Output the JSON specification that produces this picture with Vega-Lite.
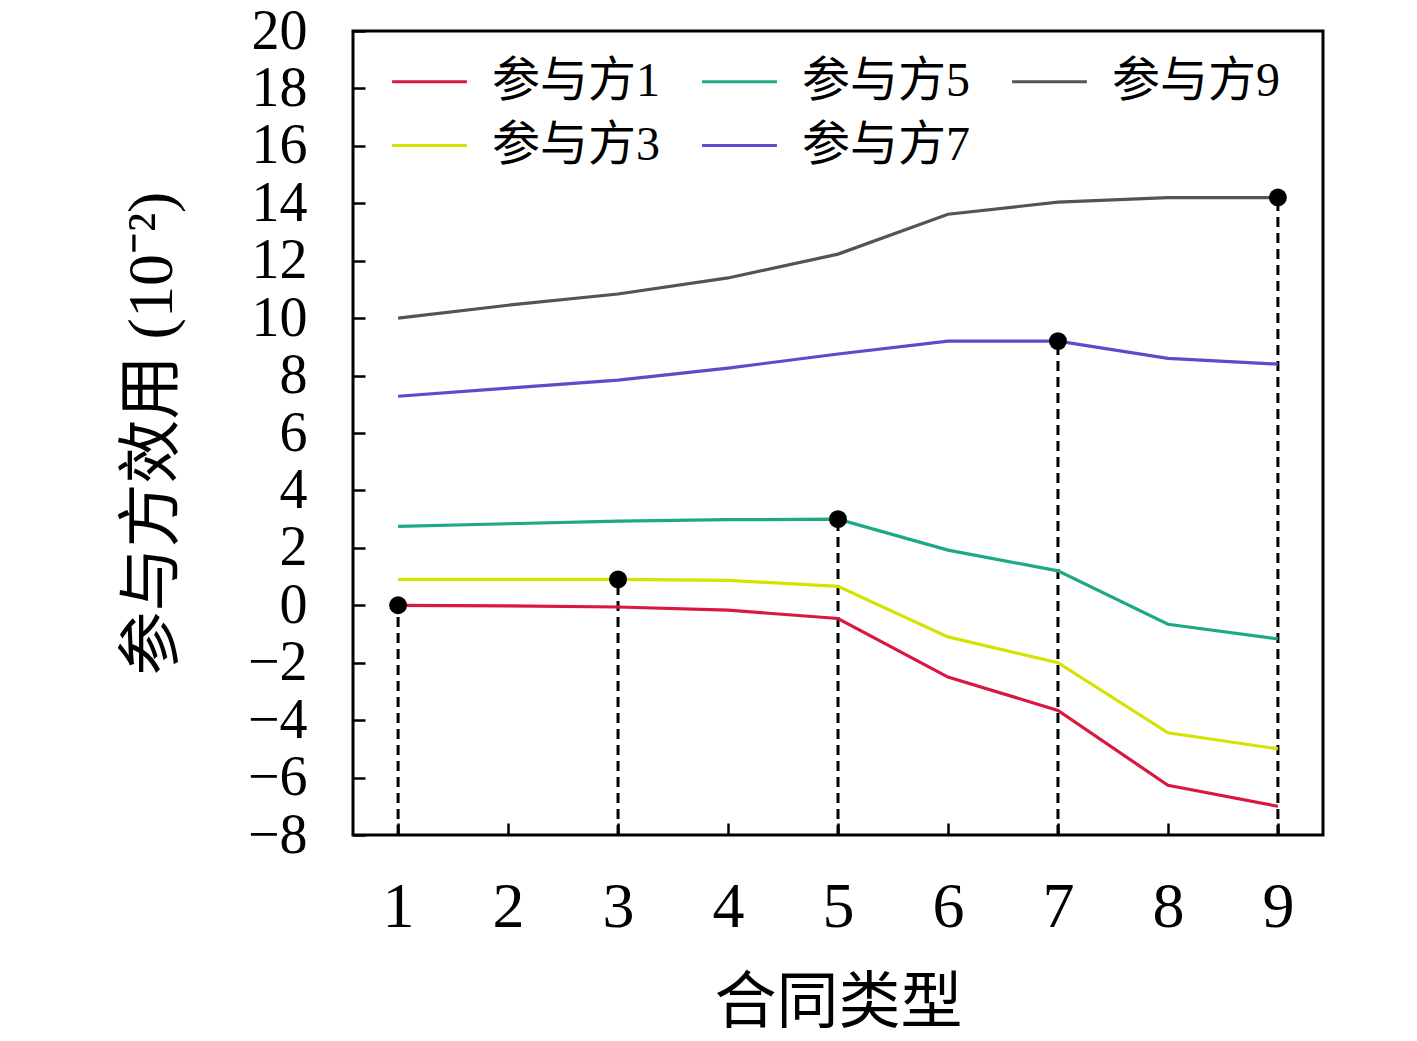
{
  "$schema": "https://vega.github.io/schema/vega-lite/v6.json",
  "width": 970,
  "height": 804,
  "autosize": "none",
  "padding": {"left": 353, "top": 31, "right": 94, "bottom": 206},
  "background": "white",
  "datasets": {
    "lines": [
      {"x": 1, "party": "参与方1", "y": 0},
      {"x": 2, "party": "参与方1", "y": -0.02},
      {"x": 3, "party": "参与方1", "y": -0.06},
      {"x": 4, "party": "参与方1", "y": -0.17},
      {"x": 5, "party": "参与方1", "y": -0.46},
      {"x": 6, "party": "参与方1", "y": -2.5},
      {"x": 7, "party": "参与方1", "y": -3.66},
      {"x": 8, "party": "参与方1", "y": -6.27},
      {"x": 9, "party": "参与方1", "y": -7.0},
      {"x": 1, "party": "参与方3", "y": 0.9},
      {"x": 2, "party": "参与方3", "y": 0.9},
      {"x": 3, "party": "参与方3", "y": 0.9},
      {"x": 4, "party": "参与方3", "y": 0.87},
      {"x": 5, "party": "参与方3", "y": 0.66},
      {"x": 6, "party": "参与方3", "y": -1.1},
      {"x": 7, "party": "参与方3", "y": -2.0},
      {"x": 8, "party": "参与方3", "y": -4.44},
      {"x": 9, "party": "参与方3", "y": -5.0},
      {"x": 1, "party": "参与方5", "y": 2.75},
      {"x": 2, "party": "参与方5", "y": 2.84},
      {"x": 3, "party": "参与方5", "y": 2.93},
      {"x": 4, "party": "参与方5", "y": 2.98},
      {"x": 5, "party": "参与方5", "y": 3.0},
      {"x": 6, "party": "参与方5", "y": 1.92},
      {"x": 7, "party": "参与方5", "y": 1.2},
      {"x": 8, "party": "参与方5", "y": -0.66},
      {"x": 9, "party": "参与方5", "y": -1.17},
      {"x": 1, "party": "参与方7", "y": 7.28},
      {"x": 2, "party": "参与方7", "y": 7.56},
      {"x": 3, "party": "参与方7", "y": 7.84},
      {"x": 4, "party": "参与方7", "y": 8.26},
      {"x": 5, "party": "参与方7", "y": 8.75},
      {"x": 6, "party": "参与方7", "y": 9.2},
      {"x": 7, "party": "参与方7", "y": 9.2},
      {"x": 8, "party": "参与方7", "y": 8.6},
      {"x": 9, "party": "参与方7", "y": 8.4},
      {"x": 1, "party": "参与方9", "y": 10.0},
      {"x": 2, "party": "参与方9", "y": 10.45},
      {"x": 3, "party": "参与方9", "y": 10.84},
      {"x": 4, "party": "参与方9", "y": 11.4},
      {"x": 5, "party": "参与方9", "y": 12.23},
      {"x": 6, "party": "参与方9", "y": 13.62},
      {"x": 7, "party": "参与方9", "y": 14.04},
      {"x": 8, "party": "参与方9", "y": 14.2},
      {"x": 9, "party": "参与方9", "y": 14.2}
    ],
    "peaks": [
      {"x": 1, "y": 0, "base": -8},
      {"x": 3, "y": 0.9, "base": -8},
      {"x": 5, "y": 3.0, "base": -8},
      {"x": 7, "y": 9.2, "base": -8},
      {"x": 9, "y": 14.2, "base": -8}
    ]
  },
  "layer": [
    {
      "data": {"name": "peaks"},
      "mark": {"type": "rule", "color": "black", "strokeWidth": 3, "strokeDash": [10, 6]},
      "encoding": {
        "x": {"field": "x", "type": "quantitative"},
        "y": {"field": "base", "type": "quantitative"},
        "y2": {"field": "y"}
      }
    },
    {
      "data": {"name": "lines"},
      "mark": {"type": "line", "strokeWidth": 3.2},
      "encoding": {
        "x": {
          "field": "x",
          "type": "quantitative",
          "scale": {"domain": [0.59, 9.41], "nice": false, "zero": false},
          "axis": {
            "title": "合同类型",
            "values": [1, 2, 3, 4, 5, 6, 7, 8, 9],
            "format": "d",
            "tickSize": -12,
            "tickWidth": 2.5,
            "tickColor": "black",
            "domain": false,
            "grid": false,
            "labelPadding": 52,
            "labelFontSize": 64,
            "labelFlush": false,
            "labelOverlap": false,
            "titleFontSize": 62,
            "titlePadding": 34,
            "titleFontWeight": "normal"
          }
        },
        "y": {
          "field": "y",
          "type": "quantitative",
          "scale": {"domain": [-8, 20], "nice": false, "zero": false},
          "axis": {
            "title": "参与方效用 (10⁻²)",
            "values": [-8, -6, -4, -2, 0, 2, 4, 6, 8, 10, 12, 14, 16, 18, 20],
            "tickSize": -12,
            "tickWidth": 2.5,
            "tickColor": "black",
            "domain": false,
            "grid": false,
            "labelPadding": 58,
            "labelFontSize": 56,
            "labelFlush": false,
            "labelOverlap": false,
            "titleFontSize": 64,
            "titlePadding": 63,
            "titleFontWeight": "normal"
          }
        },
        "color": {
          "field": "party",
          "type": "nominal",
          "scale": {
            "domain": ["参与方1", "参与方5", "参与方9", "参与方3", "参与方7"],
            "range": ["#d91842", "#1fa886", "#5a5252", "#d6e200", "#5a4ccc"]
          },
          "legend": {
            "title": null,
            "orient": "none",
            "legendX": 37,
            "legendY": 11,
            "columns": 3,
            "direction": "horizontal",
            "symbolType": "stroke",
            "symbolSize": 5600,
            "symbolStrokeWidth": 3.2,
            "labelFontSize": 48,
            "labelOffset": 23,
            "columnPadding": 34,
            "rowPadding": -13,
            "labelLimit": 400
          }
        }
      }
    },
    {
      "data": {"name": "peaks"},
      "mark": {"type": "point", "filled": true, "color": "black", "opacity": 1, "size": 320, "shape": "circle"},
      "encoding": {
        "x": {"field": "x", "type": "quantitative"},
        "y": {"field": "y", "type": "quantitative"}
      }
    }
  ],
  "config": {
    "font": "Liberation Serif, Noto Sans CJK SC",
    "view": {"stroke": "black", "strokeWidth": 3},
    "axis": {"labelColor": "black", "titleColor": "black", "labelFont": "Liberation Serif, Noto Sans CJK SC", "titleFont": "Liberation Serif, Noto Sans CJK SC"},
    "legend": {"labelColor": "black", "labelFont": "Liberation Serif, Noto Sans CJK SC"}
  }
}
